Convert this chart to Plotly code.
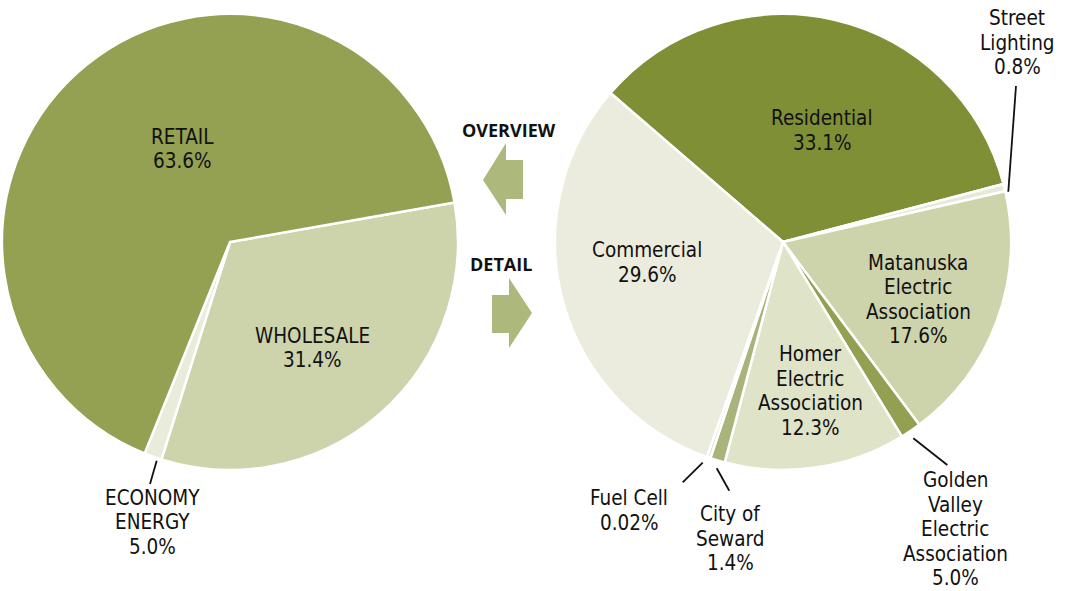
import plotly.graph_objects as go

W, H = 1067, 591

# ---------------- data ----------------
left_names = ["WHOLESALE", "ECONOMY<br>ENERGY", "RETAIL"]
left_pct_text = ["31.4%", "5.0%", "63.6%"]
left_values = [31.4, 1.2, 63.6]          # slice sizes as drawn
left_colors = ["#cdd3ab", "#e9ecdb", "#94a052"]

right_names = ["Residential", "Street<br>Lighting", "Matanuska<br>Electric<br>Association",
               "Golden<br>Valley<br>Electric<br>Association", "Homer<br>Electric<br>Association",
               "City of<br>Seward", "Fuel Cell", "Commercial"]
right_pct_text = ["33.1%", "0.8%", "17.6%", "5.0%", "12.3%", "1.4%", "0.02%", "29.6%"]
right_values = [33.1, 0.5, 17.6, 1.4, 12.3, 1.0, 0.25, 29.6]   # slice sizes as drawn
right_colors = ["#7f8f35", "#e6e8da", "#cdd3ab", "#93a052", "#dfe3c8", "#a9b47a", "#e3e6d0", "#ebecdd"]

# label block centres (pixels) and leader lines (pixels)
left_label_pos = [(312, 348), (152, 522), (182, 149)]
right_label_pos = [(822, 130.5), (1017, 43), (918, 299.5), (955, 529), (810, 391),
                   (730, 538.5), (629, 510.5), (647, 262.5)]
leaders = [((156.7, 460.7), (150, 484)),
           ((702.7, 462.7), (682.7, 482.3)),
           ((716.7, 468.3), (729.3, 490.7)),
           ((913.3, 438.3), (947.3, 465)),
           ((1016, 86), (1008.3, 191.7))]

FONT = "DejaVu Sans Condensed, Liberation Sans Narrow, sans-serif"
LINE = 24.5
SIZE = 20.5

def px(x):
    return x / W

def py(y):
    return 1 - y / H

fig = go.Figure()
fig.add_trace(go.Pie(
    labels=[n.replace("<br>", " ") for n in left_names], values=left_values, sort=False,
    direction="clockwise", rotation=80, textinfo="none", hoverinfo="skip",
    marker=dict(colors=left_colors, line=dict(color="white", width=2.5)),
    domain=dict(x=[px(2), px(458)], y=[py(470), py(14)]), showlegend=False))
fig.add_trace(go.Pie(
    labels=[n.replace("<br>", " ") for n in right_names], values=right_values, sort=False,
    direction="clockwise", rotation=-49.2, textinfo="none", hoverinfo="skip",
    marker=dict(colors=right_colors, line=dict(color="white", width=2.5)),
    domain=dict(x=[px(555), px(1011)], y=[py(470), py(14)]), showlegend=False))

annotations = []

def add_label(text, pos):
    lines = text.split("<br>")
    n = len(lines)
    cx, cy = pos
    for i, ln in enumerate(lines):
        y = cy + (i - (n - 1) / 2) * LINE
        annotations.append(dict(x=px(cx), y=py(y), xref="paper", yref="paper",
                                text=ln, showarrow=False, xanchor="center", yanchor="middle",
                                font=dict(family=FONT, size=SIZE, color="#111111")))

for name, pct, pos in zip(left_names, left_pct_text, left_label_pos):
    add_label(name + "<br>" + pct, pos)
for name, pct, pos in zip(right_names, right_pct_text, right_label_pos):
    add_label(name + "<br>" + pct, pos)

for t, (x, y) in [("OVERVIEW", (509, 130)), ("DETAIL", (501, 264))]:
    annotations.append(dict(x=px(x), y=py(y), xref="paper", yref="paper", text="<b>%s</b>" % t,
                            showarrow=False, xanchor="center", yanchor="middle",
                            font=dict(family="Open Sans, sans-serif", size=18, color="#111111")))

shapes = []
for (a, b) in leaders:
    shapes.append(dict(type="line", xref="paper", yref="paper", x0=px(a[0]), y0=py(a[1]),
                       x1=px(b[0]), y1=py(b[1]), line=dict(color="#111111", width=1.8)))

def path(points):
    return "M " + " L ".join("%f,%f" % (px(x), py(y)) for x, y in points) + " Z"

left_arrow = [(483, 180), (506, 143), (506, 160), (523, 160), (523, 199), (506, 199), (506, 215)]
right_arrow = [(532, 313), (509, 278), (509, 295), (492, 295), (492, 333), (509, 333), (509, 348)]
for pts in (left_arrow, right_arrow):
    shapes.append(dict(type="path", xref="paper", yref="paper", path=path(pts),
                       fillcolor="#adb87c", line=dict(width=0)))

fig.update_layout(width=W, height=H, margin=dict(l=0, r=0, t=0, b=0),
                  paper_bgcolor="white", plot_bgcolor="white",
                  annotations=annotations, shapes=shapes)

fig.write_html("out.html", config={"displayModeBar": False},
               post_script="document.body.style.margin='0';")
